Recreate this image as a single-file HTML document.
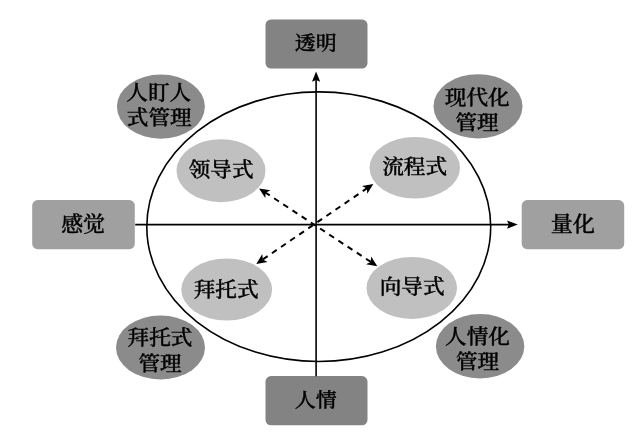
<!DOCTYPE html>
<html lang="zh">
<head>
<meta charset="utf-8">
<title>管理模式</title>
<style>
html,body{margin:0;padding:0;background:#fff;}
body{width:640px;height:446px;overflow:hidden;}
svg{display:block;filter:blur(0.5px);}
text{font-family:"Liberation Serif","Noto Serif CJK SC","Noto Sans CJK SC",serif;fill:#000;text-anchor:middle;font-weight:500;stroke:#000;stroke-width:0.4px;}
</style>
</head>
<body>
<svg width="640" height="446" viewBox="0 0 640 446">
  <rect x="0" y="0" width="640" height="446" fill="#fff"/>
  <rect x="265.5" y="19.5" width="102" height="49.1" rx="5.5" fill="#838383"/>
  <rect x="265.5" y="376.1" width="102" height="49.2" rx="5.5" fill="#838383"/>
  <rect x="32.2" y="200.1" width="102.6" height="49.1" rx="5.5" fill="#a0a0a0"/>
  <rect x="521.7" y="200.1" width="102.5" height="49.1" rx="5.5" fill="#a0a0a0"/>
  <g style="filter:blur(0.45px)">
  <ellipse cx="160.9" cy="106.6" rx="44" ry="32.1" fill="#8b8b8b"/>
  <ellipse cx="478" cy="106.35" rx="44.5" ry="32.2" fill="#8b8b8b"/>
  <ellipse cx="160.5" cy="347.5" rx="44.5" ry="32" fill="#8b8b8b"/>
  <ellipse cx="480.1" cy="346.25" rx="44.2" ry="32.25" fill="#8b8b8b"/>
  <ellipse cx="221" cy="170.7" rx="44.5" ry="31.5" fill="#c0c0c0"/>
  <ellipse cx="414.75" cy="167.8" rx="45.25" ry="30.8" fill="#c0c0c0"/>
  <ellipse cx="226.7" cy="289.5" rx="45.4" ry="31" fill="#c0c0c0"/>
  <ellipse cx="411.75" cy="287.9" rx="45.25" ry="31" fill="#c0c0c0"/>
  </g>
  <ellipse cx="318.75" cy="226.7" rx="171.95" ry="134.8" fill="none" stroke="#000" stroke-width="1.6"/>
  <line x1="316.1" y1="376.3" x2="316.10" y2="75.60" stroke="#000" stroke-width="1.6"/><polygon points="316.10,71.60 320.20,81.80 316.10,80.00 312.00,81.80" fill="#000"/>
  <line x1="135.2" y1="224.6" x2="513.80" y2="224.60" stroke="#000" stroke-width="1.6"/><polygon points="517.80,224.60 507.00,228.70 508.80,224.60 507.00,220.50" fill="#000"/>
  <line x1="262.74" y1="190.80" x2="373.66" y2="263.80" stroke="#000" stroke-width="2.0" stroke-dasharray="5.8 5.2" stroke-dashoffset="8.40"/><polygon points="259.07,188.38 270.42,190.23 265.66,192.72 265.25,198.08" fill="#000"/><polygon points="377.33,266.22 365.98,264.37 370.74,261.88 371.15,256.52" fill="#000"/>
  <line x1="369.70" y1="186.41" x2="259.90" y2="261.44" stroke="#000" stroke-width="2.0" stroke-dasharray="5.8 5.2" stroke-dashoffset="8.40"/><polygon points="373.33,183.92 367.31,193.73 366.81,188.38 362.01,185.97" fill="#000"/><polygon points="256.27,263.93 262.29,254.12 262.79,259.47 267.59,261.88" fill="#000"/>
  <g>
    <text transform="translate(315.8,50.2) scale(1.065,1)" font-size="19.7">透明</text>
    <text transform="translate(315.8,406.9) scale(1.065,1)" font-size="19.7">人情</text>
    <text transform="translate(83.1,230.8) scale(1.046,1)" font-size="21">感觉</text>
    <text transform="translate(572.8,231.4) scale(1.055,1)" font-size="21">量化</text>
    <text transform="translate(158.8,100.3) scale(1.065,1)" font-size="20.3">人盯人</text>
    <text transform="translate(159.3,124.6) scale(1.065,1)" font-size="20.3">式管理</text>
    <text transform="translate(477.3,104.9) scale(1.065,1)" font-size="20.3">现代化</text>
    <text transform="translate(477.1,129.5) scale(1.065,1)" font-size="20.3">管理</text>
    <text transform="translate(160,345.4) scale(1.065,1)" font-size="20.3">拜托式</text>
    <text transform="translate(160,370.5) scale(1.065,1)" font-size="20.3">管理</text>
    <text transform="translate(477.5,344.3) scale(1.065,1)" font-size="20.3">人情化</text>
    <text transform="translate(477.5,368.8) scale(1.065,1)" font-size="20.3">管理</text>
    <text transform="translate(221.1,176.5) scale(1.065,1)" font-size="20.3">领导式</text>
    <text transform="translate(414.6,174) scale(1.065,1)" font-size="20.3">流程式</text>
    <text transform="translate(226.1,296.8) scale(1.065,1)" font-size="20.3">拜托式</text>
    <text transform="translate(412.1,293.9) scale(1.065,1)" font-size="20.3">向导式</text>
  </g>
</svg>
</body>
</html>
